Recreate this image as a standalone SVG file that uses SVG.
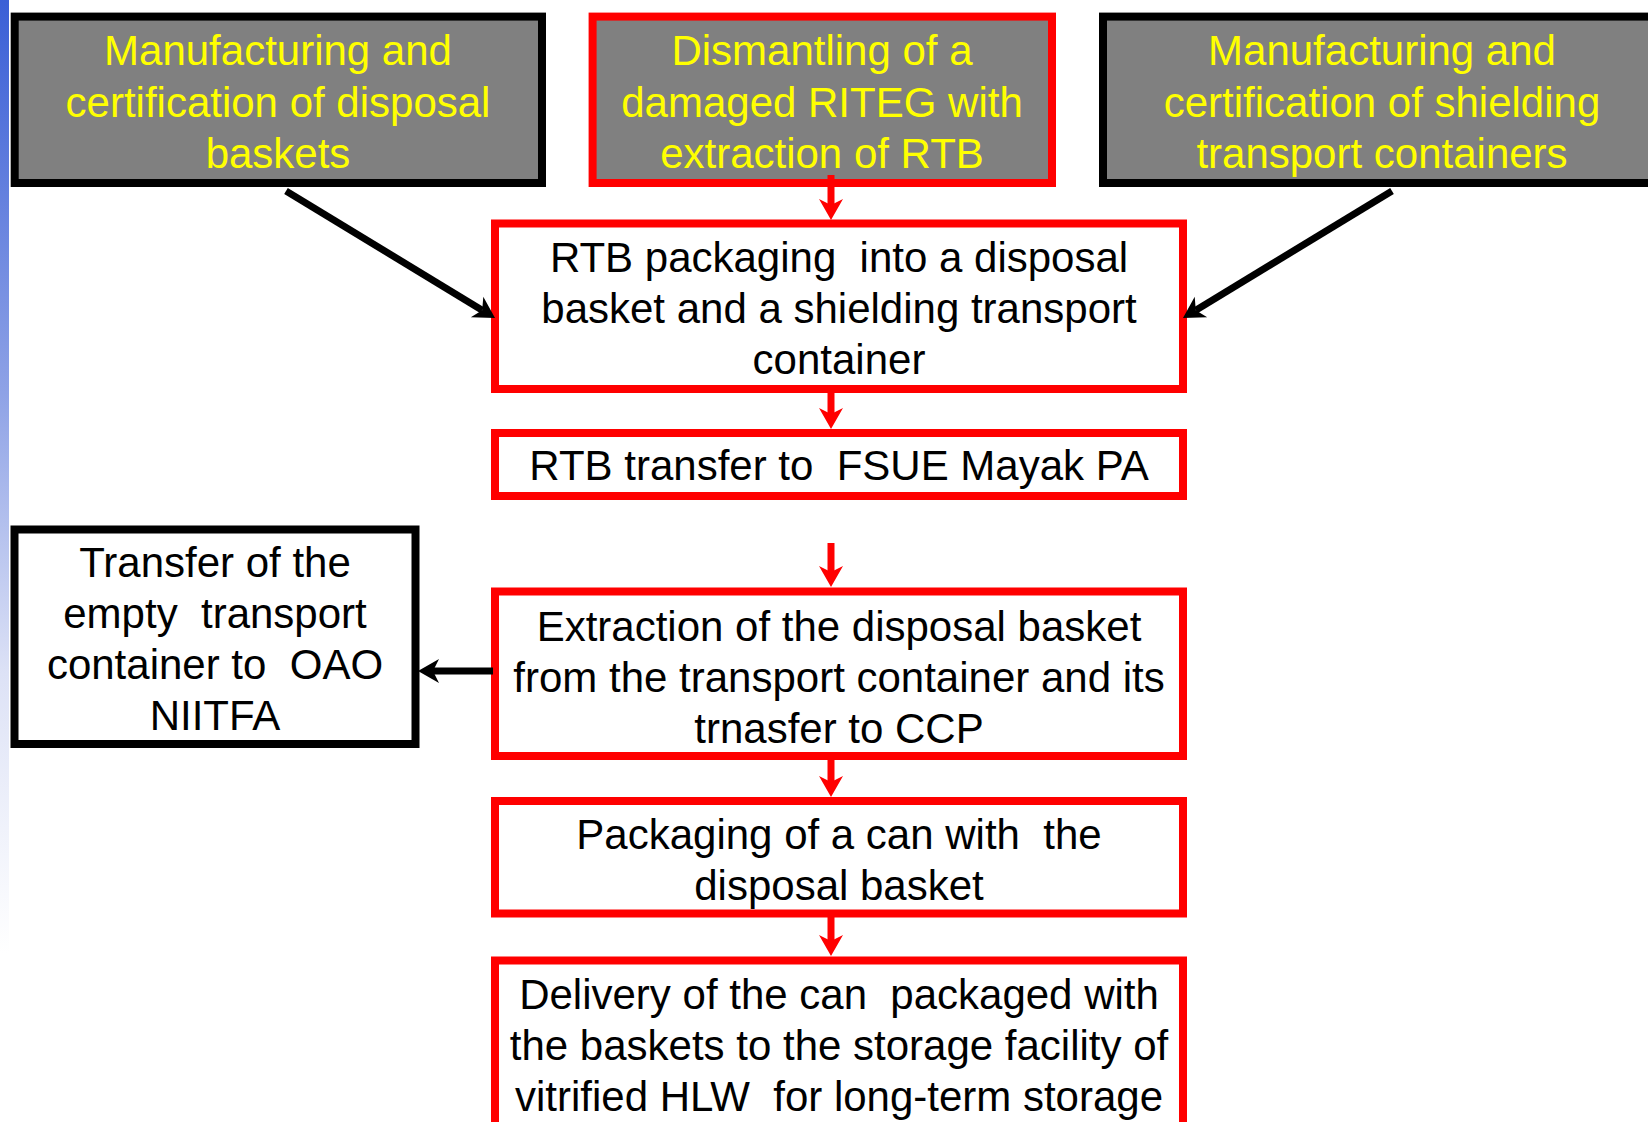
<svg xmlns="http://www.w3.org/2000/svg" width="1648" height="1122" viewBox="0 0 1648 1122" xml:space="preserve">
<style>
  .box { stroke-width: 8; }
  .grey { fill: #808080; }
  .white { fill: #ffffff; }
  .blk { stroke: #000000; }
  .red { stroke: #ff0000; }
  text { font-family: "Liberation Sans", Arial, sans-serif; font-size: 42px; text-anchor: middle; white-space: pre; }
  .yl { fill: #ffff00; }
  .bk { fill: #000000; }
  .cr { stroke: #ff0000; stroke-width: 7; fill: none; marker-end: url(#ahr); }
  .cb { stroke: #000000; stroke-width: 7; fill: none; marker-end: url(#ahb); }
</style>
<defs>
  <linearGradient id="bar" x1="0" y1="0" x2="0" y2="1">
    <stop offset="0" stop-color="#3a5fd6"/>
    <stop offset="0.35" stop-color="#8ea2e6"/>
    <stop offset="0.6" stop-color="#dde2f6"/>
    <stop offset="0.85" stop-color="#ffffff"/>
  </linearGradient>
  <marker id="ahr" markerUnits="userSpaceOnUse" markerWidth="30" markerHeight="30" refX="10" refY="12" orient="auto" overflow="visible">
    <path d="M25,12 L4,0 L10,12 L4,24 Z" fill="#ff0000"/>
  </marker>
  <marker id="ahb" markerUnits="userSpaceOnUse" markerWidth="30" markerHeight="30" refX="10" refY="12" orient="auto" overflow="visible">
    <path d="M25,12 L4,0 L10,12 L4,24 Z" fill="#000000"/>
  </marker>
</defs>
<rect x="0" y="0" width="1648" height="1122" fill="#ffffff"/>
<rect x="0" y="0" width="9" height="1122" fill="url(#bar)"/>

<g id="n1">
  <rect class="box grey blk" x="14.7" y="16.6" width="527.3" height="166.4"/>
  <text class="yl" x="278" y="65">Manufacturing and</text>
  <text class="yl" x="278" y="117">certification of disposal</text>
  <text class="yl" x="278" y="168">baskets</text>
</g>
<g id="n2">
  <rect class="box grey red" x="592.6" y="16.6" width="459.4" height="166.4"/>
  <text class="yl" x="822" y="65">Dismantling of a</text>
  <text class="yl" x="822" y="117">damaged RITEG with</text>
  <text class="yl" x="822" y="168">extraction of RTB</text>
</g>
<g id="n3">
  <rect class="box grey blk" x="1103" y="16.6" width="560" height="166.4"/>
  <text class="yl" x="1382" y="65">Manufacturing and</text>
  <text class="yl" x="1382" y="117">certification of shielding</text>
  <text class="yl" x="1382" y="168">transport containers</text>
</g>
<g id="n4">
  <rect class="box white red" x="495" y="223.5" width="688" height="165.5"/>
  <text class="bk" x="839" y="272">RTB packaging  into a disposal</text>
  <text class="bk" x="839" y="323">basket and a shielding transport</text>
  <text class="bk" x="839" y="374">container</text>
</g>
<g id="n5">
  <rect class="box white red" x="495" y="433" width="688" height="63"/>
  <text class="bk" x="839" y="480">RTB transfer to  FSUE Mayak PA</text>
</g>
<g id="n6">
  <rect class="box white blk" x="14.5" y="529.5" width="401" height="214.5"/>
  <text class="bk" x="215" y="577">Transfer of the</text>
  <text class="bk" x="215" y="628">empty  transport</text>
  <text class="bk" x="215" y="679">container to  OAO</text>
  <text class="bk" x="215" y="730">NIITFA</text>
</g>
<g id="n7">
  <rect class="box white red" x="495" y="591.5" width="688" height="164.5"/>
  <text class="bk" x="839" y="641">Extraction of the disposal basket</text>
  <text class="bk" x="839" y="692">from the transport container and its</text>
  <text class="bk" x="839" y="743">trnasfer to CCP</text>
</g>
<g id="n8">
  <rect class="box white red" x="495" y="801" width="688" height="112.5"/>
  <text class="bk" x="839" y="849">Packaging of a can with  the</text>
  <text class="bk" x="839" y="900">disposal basket</text>
</g>
<g id="n9">
  <rect class="box white red" x="495" y="960.5" width="688" height="180"/>
  <text class="bk" x="839" y="1009">Delivery of the can  packaged with</text>
  <text class="bk" x="839" y="1060">the baskets to the storage facility of</text>
  <text class="bk" x="839" y="1111">vitrified HLW  for long-term storage</text>
</g>

<g id="connectors">
  <line class="cr" x1="831" y1="175" x2="831" y2="205"/>
  <line class="cr" x1="831" y1="389" x2="831" y2="414"/>
  <line class="cr" x1="831" y1="543" x2="831" y2="572"/>
  <line class="cr" x1="831" y1="756" x2="831" y2="782"/>
  <line class="cr" x1="831" y1="914" x2="831" y2="941"/>
  <line class="cb" x1="286" y1="191" x2="482.2" y2="310.2"/>
  <line class="cb" x1="1392" y1="191" x2="1195.8" y2="310.2"/>
  <line class="cb" x1="493" y1="671" x2="433" y2="671"/>
</g>
</svg>
